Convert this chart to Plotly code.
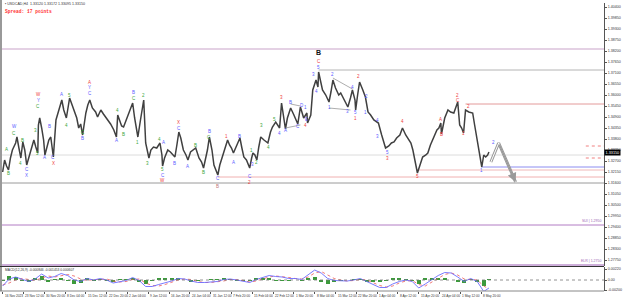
import plotly.graph_objects as go

# ---------------- data ----------------
bars = [0, 3, 6, 9, 12, 15, 20, 22, 25, 28,
        31, 34, 37, 40, 43, 48, 51, 54, 55, 57,
        60, 63, 65, 68, 71, 74, 77, 78, 82, 86,
        91, 94, 98, 103, 106, 109, 114, 117, 120, 123,
        128, 131, 134, 138, 143, 146, 151, 155, 162, 166,
        171, 175, 177, 180, 183, 186, 191, 195, 200, 203,
        208, 212, 217, 220, 225, 228, 232, 237, 242, 245,
        246, 249, 254, 258, 262, 265, 268, 271, 274, 278,
        282, 285, 289, 294, 297, 302, 306, 309, 312, 315,
        318, 322, 325, 328, 331, 334, 338, 343, 346, 349,
        352, 355, 360, 365, 368, 371, 375, 380, 383, 385,
        388, 391, 394, 397, 402, 405, 408, 412, 415, 420,
        423, 426, 429, 432, 435, 438, 443, 448, 454, 458,
        463, 468, 469, 474, 477, 482, 485, 486, 489, 492,
        497, 502, 505, 508, 512, 517, 520, 525, 531, 535,
        538, 542, 543, 546, 549, 554, 558, 562, 566, 571,
        575, 578, 583, 586, 589, 594, 598, 602, 606, 611,
        615, 620, 625, 628, 631, 635, 638, 642, 646, 651,
        654, 658, 663, 668, 671, 674, 675, 680, 685, 689,
        694, 697, 700, 703, 706, 709, 712, 717, 723, 726,
        729, 732, 735, 737, 740, 743, 746, 748]
price = [1.3215, 1.3275, 1.3245, 1.3225, 1.3285, 1.3325, 1.3360, 1.3390, 1.3335, 1.3285,
         1.3365, 1.3325, 1.3250, 1.3285, 1.3325, 1.3375, 1.3340, 1.3310, 1.3450, 1.3485,
         1.3435, 1.3375, 1.3300, 1.3345, 1.3375, 1.3390, 1.3325, 1.3290, 1.3475, 1.3515,
         1.3575, 1.3525, 1.3485, 1.3585, 1.3555, 1.3525, 1.3485, 1.3435, 1.3455, 1.3400,
         1.3510, 1.3550, 1.3575, 1.3535, 1.3515, 1.3490, 1.3525, 1.3505, 1.3475, 1.3455,
         1.3425, 1.3390, 1.3500, 1.3475, 1.3445, 1.3440, 1.3485, 1.3515, 1.3560, 1.3485,
         1.3390, 1.3475, 1.3575, 1.3360, 1.3285, 1.3325, 1.3340, 1.3335, 1.3360, 1.3300,
         1.3245, 1.3285, 1.3325, 1.3315, 1.3300, 1.3290, 1.3350, 1.3415, 1.3385, 1.3325,
         1.3300, 1.3275, 1.3315, 1.3325, 1.3335, 1.3285, 1.3265, 1.3235, 1.3275, 1.3325,
         1.3390, 1.3325, 1.3250, 1.3225, 1.3200, 1.3250, 1.3290, 1.3335, 1.3375, 1.3350,
         1.3335, 1.3310, 1.3350, 1.3385, 1.3335, 1.3290, 1.3275, 1.3235, 1.3285, 1.3310,
         1.3300, 1.3275, 1.3340, 1.3390, 1.3375, 1.3365, 1.3360, 1.3415, 1.3440, 1.3465,
         1.3450, 1.3435, 1.3560, 1.3485, 1.3430, 1.3485, 1.3535, 1.3500, 1.3455, 1.3540,
         1.3485, 1.3510, 1.3460, 1.3500, 1.3625, 1.3675, 1.3640, 1.3715, 1.3675, 1.3625,
         1.3600, 1.3565, 1.3615, 1.3675, 1.3635, 1.3600, 1.3610, 1.3575, 1.3540, 1.3585,
         1.3625, 1.3575, 1.3525, 1.3600, 1.3665, 1.3625, 1.3590, 1.3515, 1.3500, 1.3475,
         1.3465, 1.3460, 1.3400, 1.3360, 1.3335, 1.3345, 1.3360, 1.3365, 1.3385, 1.3400,
         1.3435, 1.3400, 1.3375, 1.3360, 1.3325, 1.3260, 1.3210, 1.3250, 1.3290, 1.3300,
         1.3310, 1.3350, 1.3385, 1.3425, 1.3435, 1.3460, 1.3405, 1.3485, 1.3525, 1.3515,
         1.3510, 1.3535, 1.3565, 1.3450, 1.3435, 1.3410, 1.3525, 1.3515, 1.3510, 1.3450,
         1.3390, 1.3335, 1.3290, 1.3240, 1.3300, 1.3290, 1.3300, 1.3315]

proj_bars = [751, 763, 789]
proj_price = [1.3265, 1.3360, 1.3165]

macd_bars = list(range(0, 750, 10)) + [748]
macd = [-0.0012, 0.0002, 0.0006, 0.0001, -0.0003, 0.0002, 0.0012, 0.0004, 0.0007, 0.0013,
        0.0009, 0.0000, -0.0003, 0.0003, 0.0000, 0.0003, 0.0000, -0.0006, -0.0003, -0.0001,
        0.0005, -0.0001, -0.0013, -0.0013, -0.0009, -0.0006, -0.0002, 0.0003, 0.0002, -0.0002,
        -0.0005, -0.0005, -0.0004, -0.0003, 0.0001, 0.0002, 0.0000, -0.0003, -0.0005, 0.0001,
        0.0005, 0.0009, 0.0007, 0.0006, 0.0003, 0.0003, 0.0001, 0.0011, 0.0020, 0.0014,
        0.0003, -0.0001, -0.0002, -0.0002, 0.0000, 0.0003, -0.0003, -0.0009, -0.0015, -0.0015,
        -0.0008, -0.0003, 0.0000, -0.0003, -0.0016, -0.0008, 0.0001, 0.0009, 0.0015, 0.0014,
        0.0006, -0.0003, 0.0003, -0.0003, -0.0023, -0.0016]
signal = [-0.0010, -0.0006, 0.0000, 0.0003, 0.0001, -0.0001, 0.0004, 0.0008, 0.0006, 0.0008,
          0.0011, 0.0008, 0.0002, -0.0001, 0.0001, 0.0001, 0.0002, -0.0002, -0.0004, -0.0003,
          0.0001, 0.0002, -0.0006, -0.0011, -0.0012, -0.0009, -0.0005, 0.0000, 0.0002, 0.0001,
          -0.0003, -0.0005, -0.0005, -0.0004, -0.0002, 0.0001, 0.0001, -0.0001, -0.0004, -0.0002,
          0.0002, 0.0006, 0.0008, 0.0007, 0.0005, 0.0003, 0.0002, 0.0006, 0.0014, 0.0017,
          0.0010, 0.0003, 0.0000, -0.0002, -0.0001, 0.0001, 0.0000, -0.0005, -0.0011, -0.0014,
          -0.0012, -0.0006, -0.0002, -0.0001, -0.0009, -0.0012, -0.0004, 0.0004, 0.0011, 0.0014,
          0.0010, 0.0002, 0.0001, 0.0000, -0.0012, -0.0018]
hist = [-0.0002, 0.0008, 0.0006, -0.0002, -0.0004, 0.0003, 0.0008, -0.0004, 0.0001, 0.0005,
        -0.0002, -0.0008, -0.0005, 0.0004, -0.0001, 0.0002, -0.0002, -0.0004, 0.0001, 0.0002,
        0.0004, -0.0003, -0.0007, -0.0002, 0.0003, 0.0003, 0.0003, 0.0003, 0.0000, -0.0003,
        -0.0002, 0.0000, 0.0001, 0.0001, 0.0003, 0.0001, -0.0001, -0.0002, -0.0001, 0.0003,
        0.0003, 0.0003, -0.0001, -0.0001, -0.0002, 0.0000, -0.0001, 0.0005, 0.0006, -0.0003,
        -0.0007, -0.0004, -0.0002, 0.0000, 0.0001, 0.0002, -0.0003, -0.0004, -0.0004, -0.0001,
        0.0004, 0.0003, 0.0002, -0.0002, -0.0007, 0.0004, 0.0005, 0.0005, 0.0004, 0.0000,
        -0.0004, -0.0005, 0.0002, -0.0003, -0.0011, 0.0002]

date_labels = ["16 Nov 2023", "23 Nov 12:00", "30 Nov 20:00", "8 Dec 04:00", "15 Dec 12:00",
               "22 Dec 20:00", "2 Jan 04:00", "9 Jan 12:00", "16 Jan 20:00", "24 Jan 04:00",
               "31 Jan 12:00", "7 Feb 20:00", "15 Feb 04:00", "22 Feb 12:00", "1 Mar 20:00",
               "8 Mar 04:00", "15 Mar 12:00", "22 Mar 20:00", "1 Apr 04:00", "8 Apr 12:00",
               "15 Apr 20:00", "24 Apr 04:00", "1 May 12:00", "8 May 20:00"]
bars_per_label = 32

price_ticks = ["1.40400", "1.39850", "1.39300", "1.38750", "1.38200", "1.37650", "1.37100",
               "1.36550", "1.36000", "1.35450", "1.34900", "1.34350", "1.33800", "1.33250",
               "1.32700", "1.32150", "1.31600", "1.31050", "1.30500", "1.29950", "1.29400",
               "1.28850", "1.28300", "1.27750"]
macd_ticks = ["0.00220", "0.00", "-0.00200"]

# wave labels: (text, colour key, bar, price)
waves = [("A", "g", 6, 1.3330), ("B", "g", 9, 1.3210), ("W", "b", 18, 1.3440), ("C", "g", 18, 1.3410),
         ("B", "g", 31, 1.3375), ("4", "g", 28, 1.3260), ("C", "b", 37, 1.3228), ("X", "b", 37, 1.3198),
         ("3", "g", 51, 1.3425), ("5", "g", 54, 1.3310), ("W", "r", 55, 1.3600), ("Y", "b", 55, 1.3572),
         ("C", "g", 55, 1.3544), ("A", "b", 65, 1.3290), ("B", "b", 72, 1.3440), ("C", "b", 78, 1.3288),
         ("X", "r", 78, 1.3258), ("A", "b", 91, 1.3600), ("4", "g", 98, 1.3445), ("5", "g", 103, 1.3595),
         ("C", "g", 123, 1.3412), ("B", "b", 123, 1.3383), ("A", "r", 134, 1.3664), ("Y", "b", 134, 1.3636),
         ("C", "b", 134, 1.3608), ("A", "b", 175, 1.3375), ("4", "g", 177, 1.3520), ("B", "g", 186, 1.3405),
         ("B", "b", 202, 1.3612), ("C", "g", 202, 1.3584), ("1", "g", 208, 1.3365), ("2", "g", 217, 1.3595),
         ("3", "g", 223, 1.3260), ("4", "g", 242, 1.3380), ("5", "g", 246, 1.3228), ("C", "b", 246, 1.3200),
         ("W", "r", 246, 1.3172), ("A", "b", 248, 1.3365), ("B", "b", 265, 1.3260), ("X", "r", 271, 1.3462),
         ("C", "b", 271, 1.3434), ("A", "b", 285, 1.3245), ("B", "g", 297, 1.3350), ("B", "g", 309, 1.3215),
         ("B", "b", 318, 1.3418), ("C", "g", 318, 1.3390), ("C", "b", 331, 1.3185), ("B", "p", 331, 1.3145),
         ("1", "r", 345, 1.3395), ("A", "b", 355, 1.3265), ("B", "b", 365, 1.3395), ("C", "b", 380, 1.3195),
         ("2", "r", 380, 1.3165), ("1", "g", 383, 1.3325), ("3", "b", 385, 1.3255), ("2", "g", 391, 1.3265),
         ("3", "g", 398, 1.3445), ("4", "g", 409, 1.3340), ("5", "g", 418, 1.3475), ("4", "b", 426, 1.3410),
         ("3", "r", 429, 1.3585), ("A", "b", 435, 1.3425), ("B", "b", 443, 1.3560), ("C", "b", 455, 1.3440),
         ("D", "b", 460, 1.3545), ("1", "b", 466, 1.3535), ("E", "b", 468, 1.3475), ("4", "r", 466, 1.3445),
         ("3", "b", 478, 1.3700), ("4", "b", 483, 1.3615), ("5", "b", 486, 1.3738), ("C", "r", 486, 1.3768),
         ("1", "b", 502, 1.3535), ("2", "b", 508, 1.3700), ("3", "b", 531, 1.3515), ("4", "b", 538, 1.3635),
         ("5", "b", 543, 1.3512), ("1", "r", 543, 1.3484), ("2", "r", 548, 1.3690), ("2", "b", 560, 1.3590),
         ("1", "b", 558, 1.3510), ("4", "b", 577, 1.3470), ("3", "b", 577, 1.3395), ("5", "b", 592, 1.3312),
         ("3", "r", 592, 1.3284), ("4", "r", 615, 1.3465), ("5", "r", 638, 1.3195), ("A", "r", 674, 1.3475),
         ("B", "r", 675, 1.3405), ("2", "r", 700, 1.3598), ("C", "r", 700, 1.3570), ("1", "r", 709, 1.3410),
         ("2", "r", 717, 1.3540), ("1", "b", 737, 1.3225), ("2", "b", 755, 1.3365)]
big_label = ("B", 486, 1.3810)

# horizontal levels: (price, start bar or None for full width, colour, dash)
levels = [(1.3830, None, "#c9a3c9", "solid"), (1.3725, 486, "#b4b4b4", "solid"),
          (1.3555, 712, "#e39a9a", "solid"), (1.3300, None, "#dcdcdc", "solid"),
          (1.3345, 897, "#f08080", "dot"), (1.3285, 897, "#f08080", "dot"),
          (1.3240, 737, "#8c8cf0", "solid"), (1.3225, 638, "#f0b8b8", "solid"),
          (1.3190, 331, "#f0b0b0", "solid"), (1.3160, None, "#9a9a9a", "solid"),
          (1.2950, None, "#b27cc4", "solid"), (1.2750, None, "#9c5fb5", "solid")]
level_texts = [("SUI | 1.2950", 1.2950), ("ELR | 1.2750", 1.2750)]

# triangle lines: (bar0, price0, bar1, price1)
tri_lines = [(435, 1.3435, 458, 1.3450), (443, 1.3555, 458, 1.3545),
             (508, 1.3685, 538, 1.3630), (502, 1.3535, 535, 1.3525)]

last_price = "1.33150"

# ---------------- figure ----------------
W, H = 625, 301
X0, X1 = -1, 925
def py(p):  # pixel row -> paper
    return (H - p) / H

colors = {"g": "#3aa53a", "b": "#5a5aff", "r": "#ee3b3b", "p": "#c07a7a"}

fig = go.Figure()

fig.add_trace(go.Scatter(x=bars, y=price, mode="lines",
                         line=dict(color="#404040", width=1.5), xaxis="x", yaxis="y",
                         hoverinfo="skip"))
# projection arrow (outlined)
fig.add_trace(go.Scatter(x=proj_bars, y=proj_price, mode="lines",
                         line=dict(color="#9a9a9a", width=3), xaxis="x", yaxis="y"))
fig.add_trace(go.Scatter(x=proj_bars, y=proj_price, mode="lines",
                         line=dict(color="#ffffff", width=1), xaxis="x", yaxis="y"))

n = min(len(macd_bars), len(macd), len(signal), len(hist))
fig.add_trace(go.Bar(x=macd_bars[:n], y=hist[:n], marker=dict(color="#3c9a3c", line=dict(width=0)),
                     width=6, xaxis="x", yaxis="y2"))
fig.add_trace(go.Scatter(x=macd_bars[:n], y=signal[:n], mode="lines",
                         line=dict(color="#ee5555", width=0.8, dash="dot"), xaxis="x", yaxis="y2"))
fig.add_trace(go.Scatter(x=macd_bars[:n], y=macd[:n], mode="lines",
                         line=dict(color="#6b6bff", width=0.9), xaxis="x", yaxis="y2"))

shapes = []
for p, start, col, dash in levels:
    shapes.append(dict(type="line", xref="x", yref="y", x0=X0 if start is None else start,
                       x1=X1, y0=p, y1=p, line=dict(color=col, width=1, dash=dash), layer="below"))
for b0, p0, b1, p1 in tri_lines:
    shapes.append(dict(type="line", xref="x", yref="y", x0=b0, y0=p0, x1=b1, y1=p1,
                       line=dict(color="#8a8a8a", width=0.7)))
shapes.append(dict(type="line", xref="x", yref="y2", x0=X0, x1=X1, y0=0, y1=0,
                   line=dict(color="#777777", width=0.8, dash="dot")))
shapes.append(dict(type="line", xref="paper", yref="paper", x0=1 / W, x1=1 / W, y0=py(291), y1=1,
                   line=dict(color="#555555", width=1.2)))
shapes.append(dict(type="line", xref="paper", yref="paper", x0=0, x1=604 / W, y0=py(266.5), y1=py(266.5),
                   line=dict(color="#333333", width=1.2)))
shapes.append(dict(type="line", xref="paper", yref="paper", x0=0, x1=604 / W, y0=py(291), y1=py(291),
                   line=dict(color="#888888", width=1)))

ann = []
for t, c, b, p in waves:
    ann.append(dict(x=b, y=p, xref="x", yref="y", text=t, showarrow=False,
                    font=dict(size=4.5, color=colors[c], family="Arial"), xanchor="center", yanchor="middle"))
ann.append(dict(x=big_label[1], y=big_label[2], xref="x", yref="y", text="<b>" + big_label[0] + "</b>",
                showarrow=False, font=dict(size=7, color="#111111", family="Arial")))
ann.append(dict(x=proj_bars[-1], y=proj_price[-1], ax=proj_bars[-2], ay=proj_price[-2],
                xref="x", yref="y", axref="x", ayref="y", text="", showarrow=True,
                arrowhead=2, arrowsize=1.2, arrowwidth=1.5, arrowcolor="#9a9a9a", standoff=0))
for i, lab in enumerate(date_labels):
    ann.append(dict(x=i * bars_per_label, y=py(296), xref="x", yref="paper", text=lab, showarrow=False,
                    font=dict(size=3.2, color="#333333", family="Arial"), xanchor="left", yanchor="middle"))
for t, p in level_texts:
    ann.append(dict(x=603 / W, y=p, xref="paper", yref="y", text=t, showarrow=False,
                    font=dict(size=3.5, color="#9c5fb5", family="Arial"), xanchor="right", yanchor="bottom"))
ann.append(dict(x=604 / W, y=float(last_price), xref="paper", yref="y", text=last_price, showarrow=False,
                bgcolor="#000000", font=dict(size=3.8, color="#ffffff", family="Arial"),
                xanchor="left", yanchor="middle", borderpad=0.5))
ann.append(dict(x=3 / W, y=py(4), xref="paper", yref="paper",
                text="▪ USDCAD,H4  1.33120 1.33172 1.33095 1.33150", showarrow=False,
                font=dict(size=3.6, color="#333333", family="Arial"), xanchor="left", yanchor="middle"))
ann.append(dict(x=3 / W, y=py(11), xref="paper", yref="paper", text="<b>Spread: 17 points</b>",
                showarrow=False, font=dict(size=4.6, color="#ff3030", family="Liberation Mono"),
                xanchor="left", yanchor="middle"))
ann.append(dict(x=3 / W, y=py(269.5), xref="paper", yref="paper",
                text="MACD(12,26,9) -0.000846 -0.001453 0.000607", showarrow=False,
                font=dict(size=3.3, color="#333333", family="Arial"), xanchor="left", yanchor="middle"))

fig.update_layout(
    width=W, height=H, margin=dict(l=0, r=0, t=0, b=0),
    paper_bgcolor="#ffffff", plot_bgcolor="#ffffff", showlegend=False,
    shapes=shapes, annotations=ann, bargap=0,
    xaxis=dict(domain=[2 / W, 604 / W], range=[X0, X1], anchor="y2", showgrid=False, zeroline=False,
               showticklabels=False, ticks="outside", ticklen=2, tickcolor="#555555",
               tickvals=[i * bars_per_label for i in range(len(date_labels))], showline=False),
    yaxis=dict(domain=[py(266), py(3)], range=[1.4075 - 266 / 2000, 1.4075 - 3 / 2000], side="right",
               anchor="x", showgrid=False, zeroline=False, showline=True, linecolor="#555555", linewidth=1.2,
               ticks="outside", ticklen=2, tickcolor="#555555",
               tickvals=[float(s) for s in price_ticks], ticktext=price_ticks,
               tickfont=dict(size=3.6, color="#333333", family="Arial")),
    yaxis2=dict(domain=[py(291), py(267)], range=[-0.0022, 0.0026], side="right", anchor="x",
                showgrid=False, zeroline=False, showline=True, linecolor="#555555", linewidth=1.2,
                ticks="outside", ticklen=2, tickcolor="#555555",
                tickvals=[0.0022, 0.0, -0.0020], ticktext=macd_ticks,
                tickfont=dict(size=3.6, color="#333333", family="Arial")),
)

fig.write_html("out.html")
